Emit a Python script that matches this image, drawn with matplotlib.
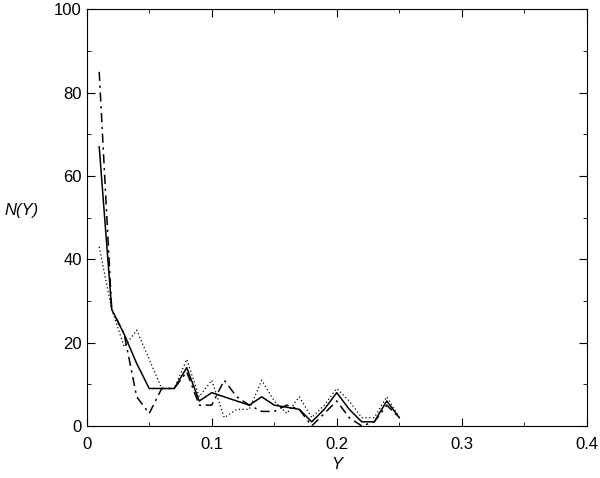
import numpy as np
import matplotlib
matplotlib.use('Agg')
import matplotlib.pyplot as plt
from matplotlib.ticker import MultipleLocator

y_bins = [0.01, 0.02, 0.03, 0.04, 0.05, 0.06, 0.07, 0.08, 0.09, 0.10, 0.11, 0.12, 0.13,
          0.14, 0.15, 0.16, 0.17, 0.18, 0.19, 0.20, 0.21, 0.22, 0.23, 0.24, 0.25]
n_solid = [67, 28, 22, 15, 9, 9, 9, 14, 6, 8, 7, 6, 5,
           7, 5, 4.5, 4, 1, 4, 8, 4, 1, 1, 6, 2]
n_dashdot = [85, 28, 22, 7, 3, 9, 9, 13, 5, 5, 11, 7, 5,
             3.5, 3.5, 5, 4, 0, 3, 6, 2, 0, 1, 5, 2]
n_dotted = [43, 28, 19, 23, 16, 9, 9, 16, 7, 11, 2, 4, 4,
            11, 6, 3, 7, 2, 5, 9, 6, 2, 2, 7, 2]

plt.rcParams['font.family'] = ['Liberation Sans', 'DejaVu Sans']
fig = plt.figure(figsize=(6, 4.78), dpi=100)
ax = fig.add_axes([0.1445, 0.1088, 0.8335, 0.8717])

ax.plot(y_bins, n_solid, 'k-', lw=1.1)
ax.plot(y_bins, n_dashdot, color='k', lw=1.1, dashes=[6, 3, 1.5, 3])
ax.plot(y_bins, n_dotted, color='k', lw=0.9, dashes=[1, 2])

ax.set_xlim(0, 0.4)
ax.set_ylim(0, 100)
ax.xaxis.set_minor_locator(MultipleLocator(0.05))
ax.yaxis.set_major_locator(MultipleLocator(20))
ax.yaxis.set_minor_locator(MultipleLocator(10))
ax.set_xticks([0, 0.1, 0.2, 0.3, 0.4])
ax.set_xticklabels(['0', '0.1', '0.2', '0.3', '0.4'])
ax.tick_params(which='both', direction='in', top=True, right=True, labelsize=12)
ax.tick_params(which='major', length=6)
ax.tick_params(which='minor', length=3)
ax.tick_params(axis='x', pad=8)

ax.set_xlabel('Y', fontsize=12, style='italic')
ax.xaxis.set_label_coords(0.5, -0.075)
ax.set_ylabel('N(Y)', fontsize=12, style='italic', rotation=0)
ax.yaxis.set_label_coords(-0.13, 0.5)

fig.savefig('out.png', dpi=100)
